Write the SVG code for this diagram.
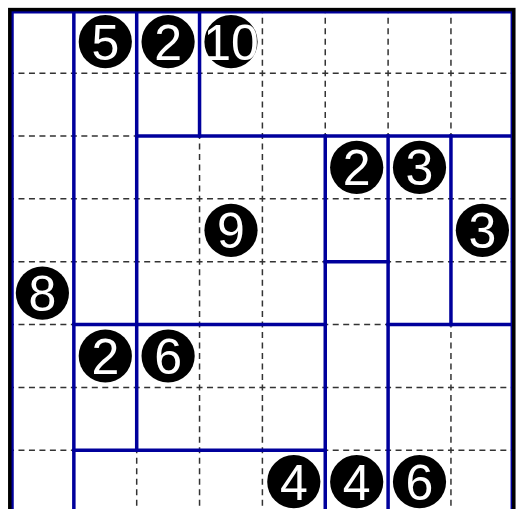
<svg xmlns="http://www.w3.org/2000/svg" width="517" height="509" viewBox="0 0 517 509">
  <style>
    .dash { stroke: #333333; stroke-width: 1.5; stroke-dasharray: 6 4.475; stroke-dashoffset: 3; fill: none; }
    .wall { stroke: #00009c; stroke-width: 3.5; stroke-linecap: square; fill: none; }
    .border { stroke: #000000; stroke-width: 3.5; fill: none; }
    .clue circle { fill: #000000; }
    .clue text { fill: #ffffff; font-family: "Liberation Sans", Arial, sans-serif; font-size: 50px; text-anchor: middle; }
  </style>
  <rect x="0" y="0" width="517" height="509" fill="#ffffff"/>
  <g id="grid-dashed">
    <line class="dash" x1="11" y1="73.15" x2="514" y2="73.15"/>
    <line class="dash" x1="11" y1="136" x2="514" y2="136"/>
    <line class="dash" x1="11" y1="198.85" x2="514" y2="198.85"/>
    <line class="dash" x1="11" y1="261.7" x2="514" y2="261.7"/>
    <line class="dash" x1="11" y1="324.55" x2="514" y2="324.55"/>
    <line class="dash" x1="11" y1="387.4" x2="514" y2="387.4"/>
    <line class="dash" x1="11" y1="450.25" x2="514" y2="450.25"/>
    <line class="dash" x1="73.85" y1="10.3" x2="73.85" y2="514"/>
    <line class="dash" x1="136.7" y1="10.3" x2="136.7" y2="514"/>
    <line class="dash" x1="199.55" y1="10.3" x2="199.55" y2="514"/>
    <line class="dash" x1="262.4" y1="10.3" x2="262.4" y2="514"/>
    <line class="dash" x1="325.25" y1="10.3" x2="325.25" y2="514"/>
    <line class="dash" x1="388.1" y1="10.3" x2="388.1" y2="514"/>
    <line class="dash" x1="450.95" y1="10.3" x2="450.95" y2="514"/>
  </g>
  <g id="regions">
    <line class="wall" x1="12" y1="11.8" x2="512.3" y2="11.8"/>
    <line class="wall" x1="12" y1="11.8" x2="12" y2="514"/>
    <line class="wall" x1="512.3" y1="11.8" x2="512.3" y2="514"/>
    <line class="wall" x1="73.85" y1="10.3" x2="73.85" y2="514"/>
    <line class="wall" x1="136.7" y1="10.3" x2="136.7" y2="450.25"/>
    <line class="wall" x1="199.55" y1="10.3" x2="199.55" y2="136"/>
    <line class="wall" x1="325.25" y1="136" x2="325.25" y2="514"/>
    <line class="wall" x1="388.1" y1="136" x2="388.1" y2="514"/>
    <line class="wall" x1="450.95" y1="136" x2="450.95" y2="324.55"/>
    <line class="wall" x1="136.7" y1="136" x2="513" y2="136"/>
    <line class="wall" x1="325.25" y1="261.7" x2="388.1" y2="261.7"/>
    <line class="wall" x1="73.85" y1="324.55" x2="325.25" y2="324.55"/>
    <line class="wall" x1="388.1" y1="324.55" x2="513" y2="324.55"/>
    <line class="wall" x1="73.85" y1="450.25" x2="325.25" y2="450.25"/>
  </g>
  <g id="border">
    <rect class="border" x="9.8" y="9.6" width="504" height="504"/>
  </g>
  <g id="clue-r0c1" class="clue"><circle cx="105.3" cy="41.7" r="26.6"/><text x="105.3" y="59.6">5</text></g>
  <g id="clue-r0c2" class="clue"><circle cx="168.1" cy="41.7" r="26.6"/><text x="168.1" y="59.6">2</text></g>
  <g id="clue-r0c3" class="clue"><circle cx="231" cy="41.7" r="26.6"/><text x="231" y="59.6">10</text></g>
  <g id="clue-r2c5" class="clue"><circle cx="356.7" cy="167.4" r="26.6"/><text x="356.7" y="185.3">2</text></g>
  <g id="clue-r2c6" class="clue"><circle cx="419.5" cy="167.4" r="26.6"/><text x="419.5" y="185.3">3</text></g>
  <g id="clue-r3c3" class="clue"><circle cx="231" cy="230.3" r="26.6"/><text x="231" y="248.2">9</text></g>
  <g id="clue-r3c7" class="clue"><circle cx="482.4" cy="230.3" r="26.6"/><text x="482.4" y="248.2">3</text></g>
  <g id="clue-r4c0" class="clue"><circle cx="42.4" cy="293.1" r="26.6"/><text x="42.4" y="311">8</text></g>
  <g id="clue-r5c1" class="clue"><circle cx="105.3" cy="356" r="26.6"/><text x="105.3" y="373.9">2</text></g>
  <g id="clue-r5c2" class="clue"><circle cx="168.1" cy="356" r="26.6"/><text x="168.1" y="373.9">6</text></g>
  <g id="clue-r7c4" class="clue"><circle cx="293.8" cy="481.7" r="26.6"/><text x="293.8" y="499.6">4</text></g>
  <g id="clue-r7c5" class="clue"><circle cx="356.7" cy="481.7" r="26.6"/><text x="356.7" y="499.6">4</text></g>
  <g id="clue-r7c6" class="clue"><circle cx="419.5" cy="481.7" r="26.6"/><text x="419.5" y="499.6">6</text></g>
</svg>
